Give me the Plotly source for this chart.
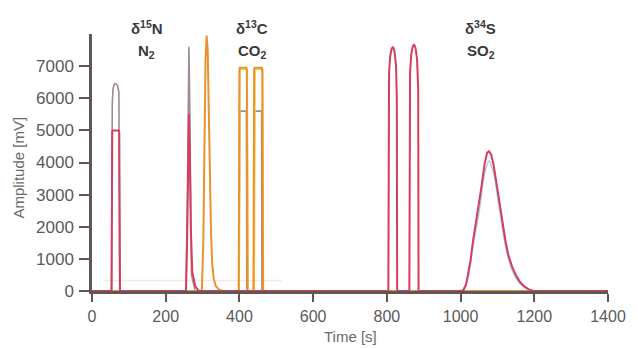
import plotly.graph_objects as go

# ---------------- data ----------------
# Main channel (crimson): N2 reference pulse, N2 sample, SO2 reference pulses, SO2 sample
main_t = [0, 53, 55, 56, 73, 74, 76, 255, 258, 261, 263, 265, 268, 272, 280, 290,
          790, 804, 806, 809, 813, 817, 821, 825, 827, 828,
          858, 861, 863, 866, 870, 874, 878, 882, 885, 886,
          1000, 1008, 1015, 1020, 1027, 1033, 1040, 1050, 1058, 1065, 1072, 1077,
          1083, 1090, 1098, 1106, 1114, 1122, 1130, 1140, 1150, 1160, 1172, 1185, 1198, 1400]
main_a = [0, 0, 4950, 5000, 5000, 4950, 0, 0, 1500, 4500, 5500, 4500, 2000, 600, 150, 0,
          0, 0, 6800, 7300, 7550, 7600, 7450, 7000, 6000, 0,
          0, 0, 6800, 7350, 7600, 7680, 7550, 7200, 6300, 0,
          0, 30, 200, 480, 950, 1500, 2000, 2650, 3350, 3950, 4300, 4350,
          4250, 3900, 3300, 2700, 2100, 1550, 1100, 750, 500, 300, 150, 50, 0, 0]

# Minor channel (grey-mauve)
minor_t = [0, 53, 55, 57, 61, 65, 69, 73, 75, 77, 255, 259, 261, 263, 265, 267, 270, 280,
           399, 401, 419, 420, 439, 441, 460, 461, 1400]
minor_a = [0, 0, 5800, 6300, 6450, 6450, 6400, 6200, 0, 0, 0, 3000, 6500, 7600, 6000, 2500, 500, 0,
           0, 5600, 5600, 0, 0, 5600, 5600, 0, 0]

# CO2 channel (orange)
co2_t = [0, 298, 302, 305, 308, 311, 314, 317, 320, 323, 326, 330, 336, 345, 355,
         398, 400, 401, 419, 420, 422, 438, 440, 441, 461, 462, 464, 1400]
co2_a = [0, 0, 1500, 4500, 7200, 7950, 7500, 5500, 3500, 1800, 900, 400, 150, 40, 0,
         0, 6900, 6950, 6950, 6900, 0, 0, 6900, 6950, 6950, 6900, 0, 0]

# CO2 second channel (yellow)
co2b_t = [0, 399, 401, 402, 420, 421, 423, 440, 442, 443, 462, 463, 465, 1400]
co2b_a = [0, 0, 6850, 6900, 6900, 6850, 0, 0, 6850, 6900, 6900, 6850, 0, 0]

# SO2 sample, light inner channel (pale blue)
so2b_t = [1005, 1020, 1033, 1050, 1065, 1077, 1090, 1106, 1122, 1140, 1160, 1190]
so2b_a = [0, 400, 1350, 2450, 3650, 4050, 3650, 2500, 1400, 650, 250, 0]

# faint baseline channel
base_t = [30, 515]
base_a = [330, 330]

x_ticks = [0, 200, 400, 600, 800, 1000, 1200, 1400]
y_ticks = [0, 1000, 2000, 3000, 4000, 5000, 6000, 7000]

labels = [("δ<sup>15</sup>N", "N<sub>2</sub>", 148),
          ("δ<sup>13</sup>C", "CO<sub>2</sub>", 435),
          ("δ<sup>34</sup>S", "SO<sub>2</sub>", 1055)]

# ---------------- figure ----------------
L, R, T, B = 92, 24, 34, 57.5
W, H = 638, 349
PW, PH = W - L - R, H - T - B

fig = go.Figure()
fig.add_trace(go.Scatter(x=base_t, y=base_a, mode="lines",
                         line=dict(color="#f6e9e4", width=1.5), hoverinfo="skip"))
fig.add_trace(go.Scatter(x=so2b_t, y=so2b_a, mode="lines", line_shape="spline",
                         line=dict(color="#a9c9d8", width=1.5)))
fig.add_trace(go.Scatter(x=minor_t, y=minor_a, mode="lines",
                         line=dict(color="#9d8b95", width=1.6)))
fig.add_trace(go.Scatter(x=co2b_t, y=co2b_a, mode="lines",
                         line=dict(color="#f1d23c", width=1.8)))
fig.add_trace(go.Scatter(x=co2_t, y=co2_a, mode="lines",
                         line=dict(color="#e8932f", width=2)))
fig.add_trace(go.Scatter(x=main_t, y=main_a, mode="lines",
                         line=dict(color="#d63d5f", width=2)))

lab_font = dict(family="Liberation Sans", size=15, color="#3a3a3a")
for top, bottom, xt in labels:
    fig.add_annotation(x=xt, y=(H - B - 27) / PH, xref="x", yref="paper", text="<b>" + top + "</b>",
                       showarrow=False, font=lab_font, xanchor="center", yanchor="middle")
    fig.add_annotation(x=xt, y=(H - B - 52) / PH, xref="x", yref="paper", text="<b>" + bottom + "</b>",
                       showarrow=False, font=lab_font, xanchor="center", yanchor="middle")

title_font = dict(family="Liberation Sans", size=15, color="#6a6a6a")
fig.add_annotation(x=(18 - L) / PW, y=(H - B - 168) / PH, xref="paper", yref="paper",
                   text="Amplitude [mV]", showarrow=False, textangle=-90,
                   xanchor="center", yanchor="middle", font=title_font)
fig.add_annotation(x=(354 - L) / PW, y=(H - B - 337) / PH, xref="paper", yref="paper",
                   text="Time [s]", showarrow=False,
                   xanchor="center", yanchor="middle", font=title_font)

fig.update_layout(
    width=W, height=H,
    margin=dict(l=L, r=R, t=T, b=B),
    paper_bgcolor="white", plot_bgcolor="white",
    showlegend=False,
    font=dict(family="Liberation Sans", color="#5a5a5a"),
    xaxis=dict(range=[0, 1400], tickvals=x_ticks, ticktext=[str(v) for v in x_ticks],
               showgrid=False, zeroline=False, showline=True, linecolor="#605654", linewidth=3,
               ticks="outside", ticklen=8, tickwidth=2, tickcolor="#605654",
               ticklabelstandoff=1,
               tickfont=dict(size=16, color="#5a5a5a")),
    yaxis=dict(range=[0, 8000], tickvals=y_ticks, ticktext=[str(v) for v in y_ticks],
               showgrid=False, zeroline=False, showline=True, linecolor="#605654", linewidth=2.5,
               ticks="outside", ticklen=10, tickwidth=2, tickcolor="#605654",
               ticklabelstandoff=2,
               tickfont=dict(size=17, color="#5a5a5a")),
)

fig.write_html("out.html",
               config={"displayModeBar": False},
               post_script="document.body.style.margin='0';document.body.style.overflow='hidden';")
